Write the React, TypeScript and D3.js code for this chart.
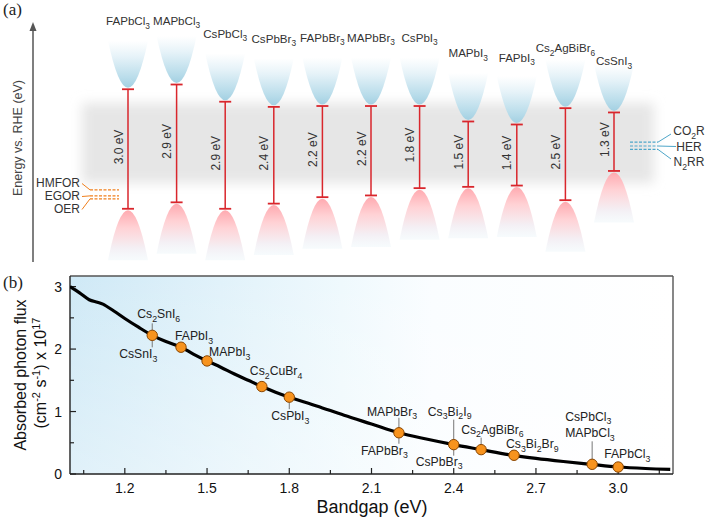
import React from 'react';
import * as d3 from 'd3';

const W = 708;
const H = 522;
const SANS = "'Liberation Sans', Arial, Helvetica, sans-serif";
const SERIF = "'Liberation Serif', 'Times New Roman', serif";

// ---------- Panel (a) data ----------
const materials = ['FAPbCl3', 'MAPbCl3', 'CsPbCl3', 'CsPbBr3', 'FAPbBr3', 'MAPbBr3', 'CsPbI3', 'MAPbI3', 'FAPbI3', 'Cs2AgBiBr6', 'CsSnI3'];
const bandGaps = [3.0, 2.9, 2.9, 2.4, 2.2, 2.2, 1.8, 1.5, 1.4, 2.5, 1.3];
const cbEdges = [-1.32, -1.43, -1.03, -0.91, -0.93, -0.93, -0.93, -0.57, -0.5, -0.88, -0.78];
const vbEdges = [1.46, 1.31, 1.46, 1.34, 1.19, 1.15, 0.98, 0.95, 0.92, 1.26, 0.58];
const reductionLabels = ['CO2R', 'HER', 'N2RR'];
const reductionPotentials = [-0.09, 0, 0.08];
const oxidationLabels = ['HMFOR', 'EGOR', 'OER'];
const oxidationPotentials = [1.02, 1.16, 1.23];

// ---------- Panel (b) data ----------
const curveBandgap = [1.0, 1.035, 1.07, 1.1, 1.12, 1.16, 1.2, 1.25, 1.3, 1.35, 1.405, 1.45, 1.5, 1.55, 1.6, 1.65, 1.7, 1.75, 1.8, 1.9, 2.0, 2.1, 2.2, 2.3, 2.4, 2.5, 2.6, 2.7, 2.8, 2.9, 3.0, 3.1, 3.19];
const curveFlux = [3.0, 2.9, 2.79, 2.75, 2.72, 2.61, 2.49, 2.35, 2.22, 2.12, 2.03, 1.92, 1.81, 1.71, 1.6, 1.5, 1.4, 1.31, 1.23, 1.09, 0.94, 0.8, 0.66, 0.56, 0.47, 0.39, 0.31, 0.25, 0.2, 0.155, 0.112, 0.088, 0.075];
const pointBandgap = [1.3, 1.405, 1.5, 1.7, 1.8, 2.2, 2.4, 2.5, 2.62, 2.905, 3.0];
const pointFlux = [2.22, 2.03, 1.81, 1.4, 1.23, 0.66, 0.47, 0.39, 0.3, 0.155, 0.112];
const pointLabelsAbove = [['Cs2SnI6'], ['FAPbI3'], ['MAPbI3'], ['Cs2CuBr4'], [], ['MAPbBr3'], ['Cs3Bi2I9'], ['Cs2AgBiBr6'], ['Cs3Bi2Br9'], ['CsPbCl3', 'MAPbCl3'], ['FAPbCl3']];
const pointLabelsBelow = [['CsSnI3'], [], [], [], ['CsPbI3'], ['FAPbBr3'], ['CsPbBr3'], [], [], [], []];
const xTickValues = [1.2, 1.5, 1.8, 2.1, 2.4, 2.7, 3.0];
const xMinorValues = [1.05, 1.35, 1.65, 1.95, 2.25, 2.55, 2.85, 3.15];
const yTickValues = [0, 1, 2, 3];
const yMinorValues = [0.5, 1.5, 2.5];

// ---------- layout (pixels) ----------
const aboveLayout = [[-15, -17], [-6, -7], [2, -5], [-12, -11.5], [0, 0], [-32, -17], [-26, -29], [-20, -16], [-8, -7], [-27, -43.5], [-14, -9]];
const belowLayout = [[-33, 23], [0, 0], [0, 0], [0, 0], [-18, 23], [-38, 22], [-38, 21], [0, 0], [0, 0], [0, 0], [0, 0]];
const leaderLayout: (number[] | null)[] = [[-12, 12], null, null, null, [5, 12], [-15, 11], [-25, 11], [-12, -5], null, [-23, -5], null];
const topLabelNudge: Record<string, number> = { MAPbCl3: 4, Cs2AgBiBr6: 8, CsSnI3: 17, FAPbI3: 1 };
const lineGap = 16.5;

function formula(text: string, size: number, subScale = 0.72) {
  const parts = text.match(/\d+|\D+/g) || [];
  let lowered = false;
  const shift = size * 0.3;
  return parts.map((p, i) => {
    const isNum = /^\d+$/.test(p);
    let dy: number | undefined;
    if (isNum && !lowered) {
      dy = shift;
      lowered = true;
    } else if (!isNum && lowered) {
      dy = -shift;
      lowered = false;
    }
    return (
      <tspan key={i} dy={dy} fontSize={isNum ? size * subScale : undefined}>
        {p}
      </tspan>
    );
  });
}

function PanelA() {
  const xCol = d3.scalePoint<string>().domain(materials).range([128, 614]);
  const yE = d3.scaleLinear().domain([0, 1]).range([146, 189]);
  const halfW = 20;
  const cbH = 47;
  const vbH = 50;
  const red = '#d9262c';
  const capW = 6;
  const orange = '#f0801e';
  const blue = '#4ea6c9';
  const topSize = 11.6;

  return (
    <g>
      <defs>
        <filter id="bandBlur" x="-10%" y="-40%" width="120%" height="180%">
          <feGaussianBlur stdDeviation="6" />
        </filter>
        <linearGradient id="cbGrad" x1="0" y1="0" x2="0" y2="1">
          <stop offset="0" stopColor="#ffffff" stopOpacity="0.9" />
          <stop offset="0.35" stopColor="#e5f2f8" />
          <stop offset="0.8" stopColor="#b8dcea" />
          <stop offset="1" stopColor="#a3d0e2" />
        </linearGradient>
        <linearGradient id="vbGrad" x1="0" y1="0" x2="0" y2="1">
          <stop offset="0" stopColor="#ffaab0" />
          <stop offset="0.35" stopColor="#ffd2d5" />
          <stop offset="0.75" stopColor="#f4eff4" />
          <stop offset="1" stopColor="#f1f8fb" stopOpacity="0.6" />
        </linearGradient>
      </defs>

      <text x={3} y={15} fontFamily={SERIF} fontSize={17} fill="#222">(a)</text>

      {/* gray window band */}
      <rect x={82} y={103} width={572} height={80} fill="#e6e6e6" filter="url(#bandBlur)" />

      {/* energy axis */}
      <line x1={33} y1={262} x2={33} y2={30} stroke="#555" strokeWidth={1.5} />
      <path d="M33,22 L29.5,31 L36.5,31 Z" fill="#555" />
      <text transform="translate(22,138) rotate(-90)" textAnchor="middle" fontFamily={SANS} fontSize={12.5} fill="#444">
        Energy vs. RHE (eV)
      </text>

      {materials.map((m, i) => {
        const cx = xCol(m)!;
        const yc = yE(cbEdges[i]);
        const yv = yE(vbEdges[i]);
        const cbVertex = yc - 1.5;
        const cbTop = cbVertex - cbH;
        const vbApex = yv + 1.5;
        const vbBottom = vbApex + vbH;
        const cbPath = `M${cx - halfW},${cbTop} Q${cx},${2 * cbVertex - cbTop} ${cx + halfW},${cbTop} Z`;
        const vbPath = `M${cx - halfW},${vbBottom} Q${cx},${2 * vbApex - vbBottom} ${cx + halfW},${vbBottom} Z`;
        const mid = (yc + yv) / 2 - 2;
        const labelY = yc - 64 + (topLabelNudge[m] || 0);
        return (
          <g key={m}>
            <path d={cbPath} fill="url(#cbGrad)" />
            <path d={vbPath} fill="url(#vbGrad)" />
            <line x1={cx} y1={yc} x2={cx} y2={yv} stroke={red} strokeWidth={1.5} />
            <line x1={cx - capW} y1={yc} x2={cx + capW} y2={yc} stroke={red} strokeWidth={1.8} />
            <line x1={cx - capW} y1={yv} x2={cx + capW} y2={yv} stroke={red} strokeWidth={1.8} />
            <text transform={`translate(${cx - 5.5},${mid}) rotate(-90)`} textAnchor="middle" fontFamily={SANS} fontSize={12} fill="#333">
              {`${bandGaps[i].toFixed(1)} eV`}
            </text>
            <text x={cx} y={labelY} textAnchor="middle" fontFamily={SANS} fontSize={topSize} fill="#333">
              {formula(m, topSize)}
            </text>
          </g>
        );
      })}

      {/* oxidation potentials (left) */}
      {oxidationLabels.map((lab, i) => {
        const y = yE(oxidationPotentials[i]);
        const ty = 183 + i * 13;
        return (
          <g key={lab}>
            <line x1={90} y1={y} x2={119} y2={y} stroke={orange} strokeWidth={1.2} strokeDasharray="3,1.5" />
            <line x1={82} y1={ty + 0.5} x2={90} y2={y} stroke={orange} strokeWidth={1} />
            <text x={80} y={ty + 4} textAnchor="end" fontFamily={SANS} fontSize={12} fill="#333">
              {lab}
            </text>
          </g>
        );
      })}

      {/* reduction potentials (right) */}
      {reductionLabels.map((lab, i) => {
        const y = yE(reductionPotentials[i]);
        const ty = 131 + i * 15.5;
        return (
          <g key={lab}>
            <line x1={630} y1={y} x2={658} y2={y} stroke={blue} strokeWidth={1.2} strokeDasharray="3,1.5" />
            <line x1={658} y1={y} x2={i === 1 ? 676 : 671} y2={ty + (i === 1 ? 0 : i === 0 ? 3 : -3)} stroke={blue} strokeWidth={1} />
            <text x={689} y={ty + 4} textAnchor="middle" fontFamily={SANS} fontSize={12} fill="#333">
              {formula(lab, 12)}
            </text>
          </g>
        );
      })}
    </g>
  );
}

function PanelB() {
  const left = 70;
  const right = 673;
  const top = 276;
  const bottom = 474;
  const x = d3.scaleLinear().domain([1.0, 3.2]).range([left, right]);
  const y = d3.scaleLinear().domain([0, 3.17]).range([bottom, top]);
  const line = d3
    .line<number>()
    .x((d, i) => x(curveBandgap[i]))
    .y((d, i) => y(curveFlux[i]))
    .curve(d3.curveCatmullRom.alpha(0.5));
  const pathD = line(curveFlux) || '';
  const labelSize = 12.2;

  return (
    <g>
      <defs>
        <linearGradient id="bgGradB" x1="0" y1="0" x2="1" y2="0">
          <stop offset="0" stopColor="#cfe9f6" />
          <stop offset="0.25" stopColor="#e1f2fa" />
          <stop offset="0.45" stopColor="#eff9fd" />
          <stop offset="0.6" stopColor="#fafdff" />
          <stop offset="1" stopColor="#ffffff" />
        </linearGradient>
        <linearGradient id="bgFadeB" x1="0" y1="0" x2="0" y2="1">
          <stop offset="0" stopColor="#ffffff" stopOpacity="0" />
          <stop offset="1" stopColor="#ffffff" stopOpacity="0.35" />
        </linearGradient>
        <clipPath id="clipB">
          <rect x={left} y={top} width={right - left} height={bottom - top} />
        </clipPath>
      </defs>

      <text x={3} y={288} fontFamily={SERIF} fontSize={17} fill="#222">(b)</text>

      <rect x={left} y={top} width={right - left} height={bottom - top} fill="url(#bgGradB)" />
      <rect x={left} y={top} width={right - left} height={bottom - top} fill="url(#bgFadeB)" />

      {/* frame */}
      <line x1={left} y1={top} x2={right} y2={top} stroke="#555" strokeWidth={1.4} />
      <line x1={right} y1={top} x2={right} y2={bottom} stroke="#555" strokeWidth={1.4} />
      <line x1={left} y1={top} x2={left} y2={bottom} stroke="#222" strokeWidth={1.4} />
      <line x1={left} y1={bottom} x2={right} y2={bottom} stroke="#222" strokeWidth={1.4} />

      {/* ticks */}
      {xTickValues.map((v) => (
        <g key={`xt${v}`}>
          <line x1={x(v)} y1={bottom} x2={x(v)} y2={bottom - 6} stroke="#222" strokeWidth={1.2} />
          <text x={x(v)} y={493} textAnchor="middle" fontFamily={SANS} fontSize={14} fill="#111">
            {v.toFixed(1)}
          </text>
        </g>
      ))}
      {xMinorValues.map((v) => (
        <line key={`xm${v}`} x1={x(v)} y1={bottom} x2={x(v)} y2={bottom - 4} stroke="#222" strokeWidth={1.2} />
      ))}
      {yTickValues.map((v) => (
        <g key={`yt${v}`}>
          <line x1={left} y1={y(v)} x2={left + 6} y2={y(v)} stroke="#222" strokeWidth={1.2} />
          <text x={62} y={y(v)} dy="0.36em" textAnchor="end" fontFamily={SANS} fontSize={14} fill="#111">
            {v}
          </text>
        </g>
      ))}
      {yMinorValues.map((v) => (
        <line key={`ym${v}`} x1={left} y1={y(v)} x2={left + 4} y2={y(v)} stroke="#222" strokeWidth={1.2} />
      ))}

      {/* axis titles */}
      <text x={372} y={513} textAnchor="middle" fontFamily={SANS} fontSize={18} fill="#111">
        Bandgap (eV)
      </text>
      <text transform="translate(26,375) rotate(-90)" textAnchor="middle" fontFamily={SANS} fontSize={16} fill="#111">
        Absorbed photon flux
      </text>
      <text transform="translate(46,373) rotate(-90)" textAnchor="middle" fontFamily={SANS} fontSize={16} fill="#111">
        <tspan>(cm</tspan>
        <tspan dy={-6} fontSize={11}>-2</tspan>
        <tspan dy={6}> s</tspan>
        <tspan dy={-6} fontSize={11}>-1</tspan>
        <tspan dy={6}>) x 10</tspan>
        <tspan dy={-6} fontSize={11}>17</tspan>
      </text>

      {/* curve */}
      <path d={pathD} fill="none" stroke="#000" strokeWidth={3.2} strokeLinejoin="round" clipPath="url(#clipB)" />

      {/* leaders */}
      {pointBandgap.map((bg, i) => {
        const lay = leaderLayout[i];
        if (!lay) return null;
        const px = x(bg);
        const py = y(pointFlux[i]);
        return <line key={`ld${i}`} x1={px} y1={py + lay[0]} x2={px} y2={py + lay[1]} stroke="#777" strokeWidth={1} />;
      })}

      {/* markers */}
      {pointBandgap.map((bg, i) => (
        <circle key={`pt${i}`} cx={x(bg)} cy={y(pointFlux[i])} r={5.2} fill="#f7931e" stroke="#8a4500" strokeWidth={1} />
      ))}

      {/* labels */}
      {pointBandgap.map((bg, i) => {
        const px = x(bg);
        const py = y(pointFlux[i]);
        const [adx, ady] = aboveLayout[i];
        const [bdx, bdy] = belowLayout[i];
        return (
          <g key={`lb${i}`}>
            {pointLabelsAbove[i].map((t, j) => (
              <text key={`a${j}`} x={px + adx} y={py + ady + j * lineGap} fontFamily={SANS} fontSize={labelSize} fill="#222">
                {formula(t, labelSize)}
              </text>
            ))}
            {pointLabelsBelow[i].map((t, j) => (
              <text key={`b${j}`} x={px + bdx} y={py + bdy + j * lineGap} fontFamily={SANS} fontSize={labelSize} fill="#222">
                {formula(t, labelSize)}
              </text>
            ))}
          </g>
        );
      })}
    </g>
  );
}

export default function App() {
  return (
    <svg
      width={W}
      height={H}
      viewBox={`0 0 ${W} ${H}`}
      style={{ position: 'absolute', left: 0, top: 0, display: 'block', background: '#fff' }}
    >
      <rect x={0} y={0} width={W} height={H} fill="#fff" />
      <PanelA />
      <PanelB />
    </svg>
  );
}
